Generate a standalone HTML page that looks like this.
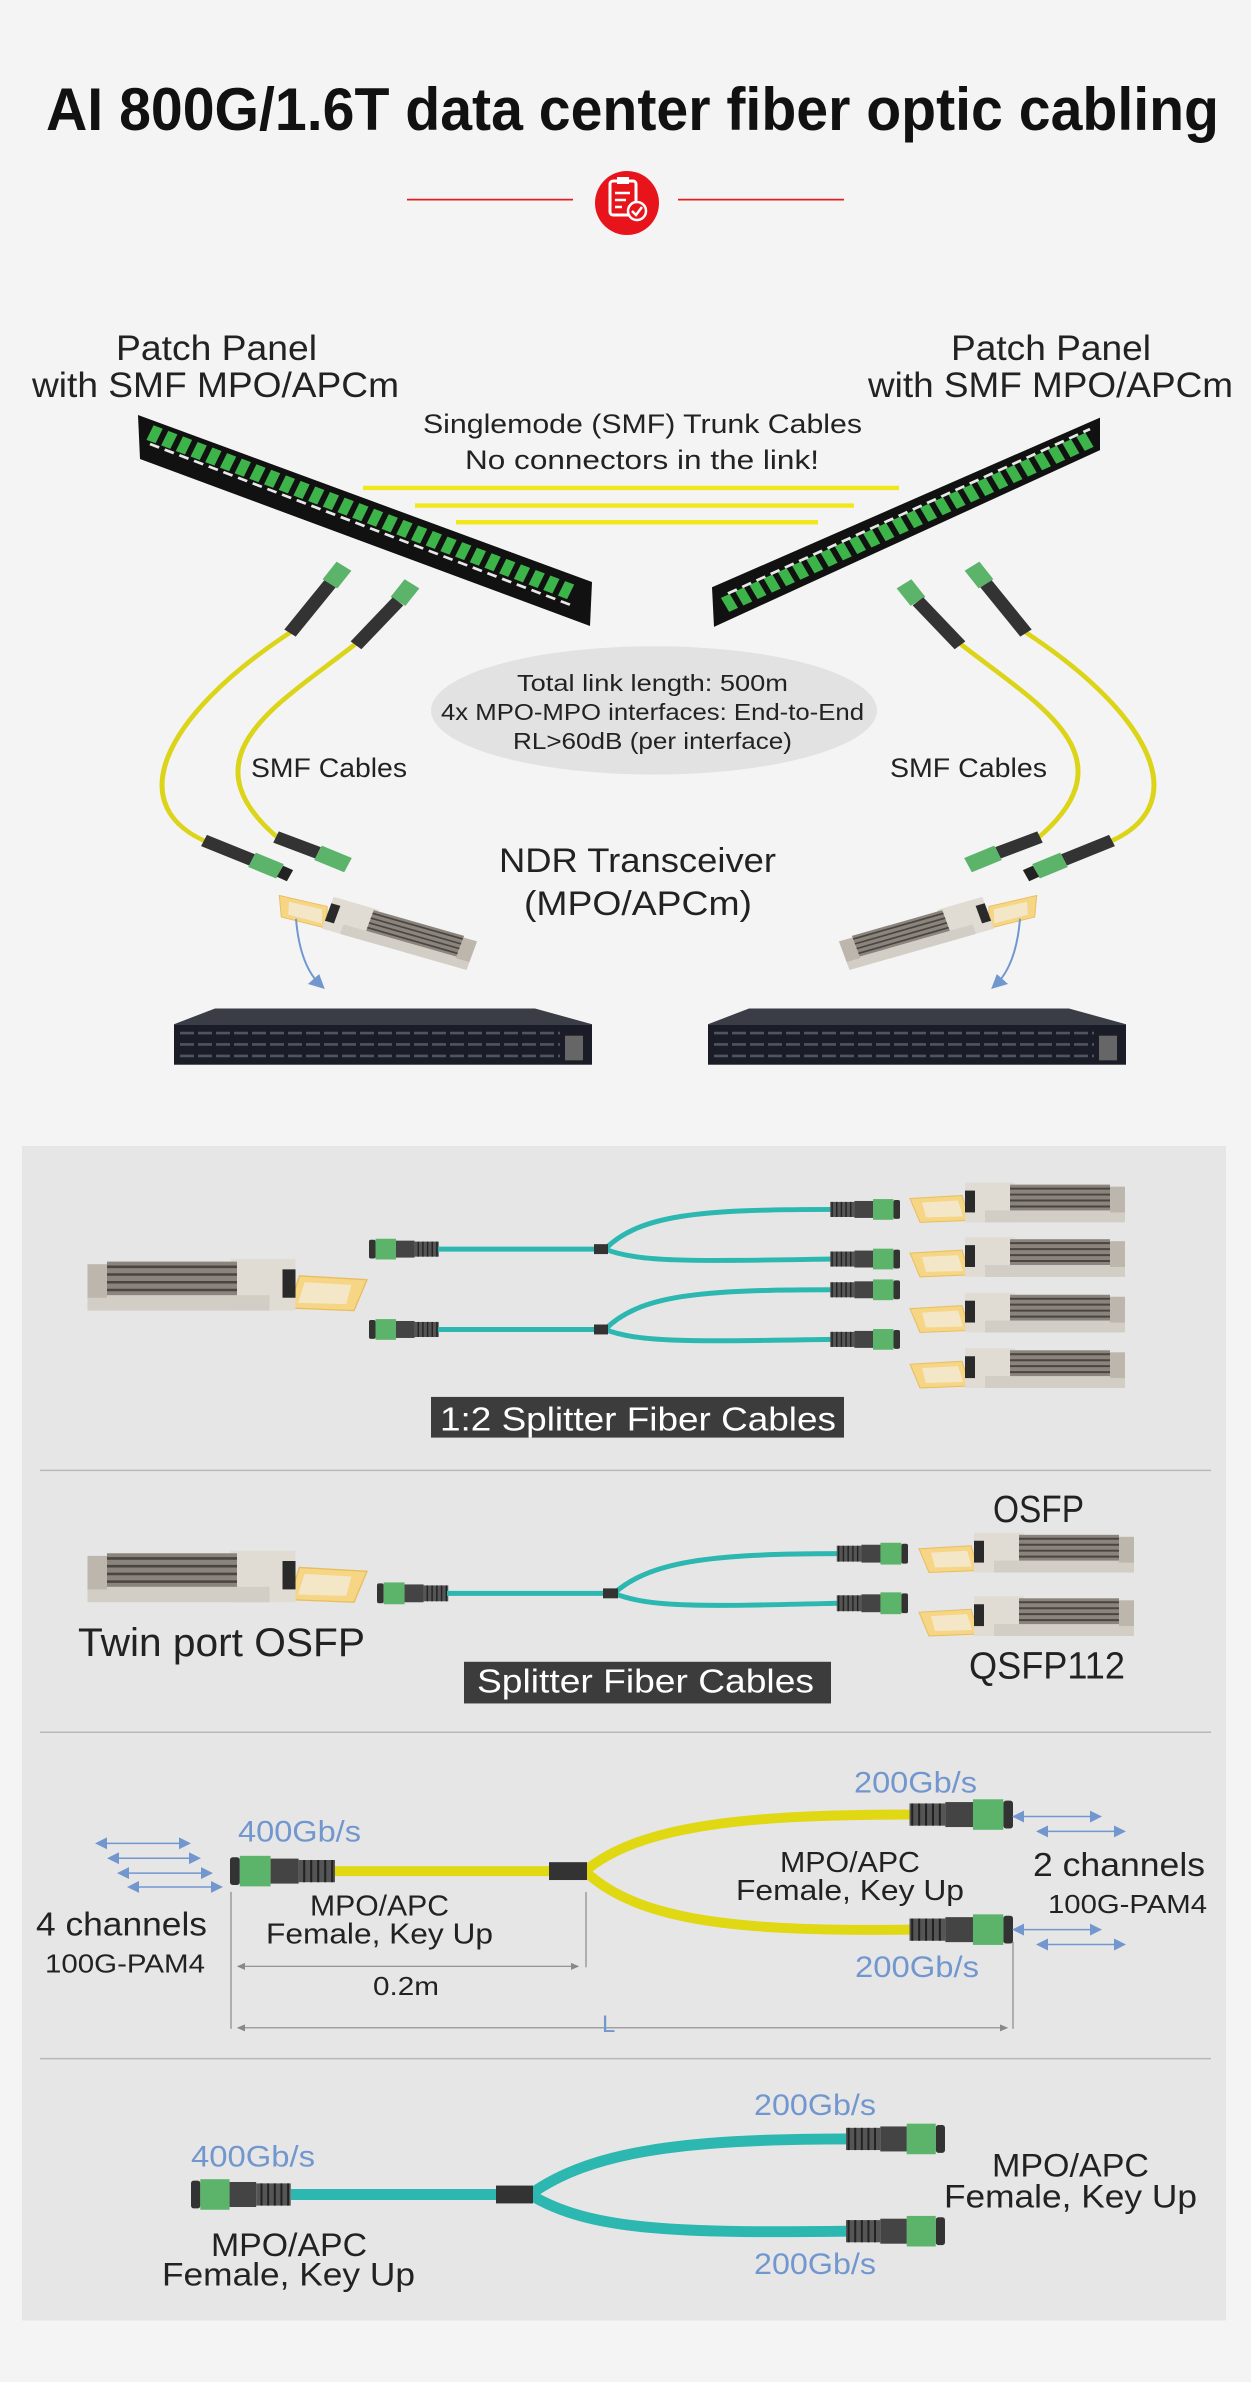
<!DOCTYPE html>
<html><head><meta charset="utf-8">
<style>
html,body{margin:0;padding:0;background:#f4f4f4;}
svg{display:block;}
text{font-family:"Liberation Sans",sans-serif;fill:#222;}
.b{fill:#7297cf;}
</style></head><body>
<svg width="1251" height="2382" viewBox="0 0 1251 2382" xmlns="http://www.w3.org/2000/svg">
<defs>
 <g id="xcvr">
  <path d="M0 16 L52 13 L60 38 L10 40 Z" fill="#f6d584" stroke="#e8bd5e" stroke-width="1"/>
  <path d="M12 20 L48 18 L53 34 L16 35 Z" fill="#f4f4f4" opacity="0.6"/>
  <rect x="55" y="0" width="50" height="40" fill="#e0dcd4"/>
  <rect x="55" y="8" width="10" height="22" fill="#2a2a2a"/>
  <rect x="100" y="2" width="100" height="28" fill="#8a847c"/>
  <g stroke="#4a4540" stroke-width="2"><line x1="100" y1="6" x2="200" y2="6"/><line x1="100" y1="12" x2="200" y2="12"/><line x1="100" y1="18" x2="200" y2="18"/><line x1="100" y1="24" x2="200" y2="24"/></g>
  <rect x="75" y="28" width="140" height="12" fill="#d2cdc5"/>
  <rect x="200" y="4" width="15" height="26" fill="#bcb6ad"/>
 </g>
 <g id="con">
  <rect x="0" y="-10" width="7" height="20" rx="2" fill="#333"/>
  <rect x="7" y="-11" width="22" height="22" fill="#5cb46a"/>
  <rect x="29" y="-9" width="20" height="18" fill="#444"/>
  <rect x="49" y="-8" width="26" height="16" fill="#555"/>
  <g stroke="#222" stroke-width="1.5"><line x1="53" y1="-8" x2="53" y2="8"/><line x1="58" y1="-8" x2="58" y2="8"/><line x1="63" y1="-8" x2="63" y2="8"/><line x1="68" y1="-8" x2="68" y2="8"/><line x1="73" y1="-8" x2="73" y2="8"/></g>
 </g>
 <marker id="ah" markerWidth="8" markerHeight="8" refX="6" refY="4" orient="auto"><path d="M0 0 L8 4 L0 8 Z" fill="#7297cf"/></marker>
 <marker id="ah2" markerWidth="8" markerHeight="8" refX="2" refY="4" orient="auto-start-reverse"><path d="M0 0 L8 4 L0 8 Z" fill="#7297cf"/></marker>
 <marker id="gk" markerWidth="8" markerHeight="8" refX="6" refY="4" orient="auto-start-reverse"><path d="M0 1 L7 4 L0 7 Z" fill="#888"/></marker>
</defs>

<!-- title -->
<text x="46" y="130" font-size="60" font-weight="bold" textLength="1173" lengthAdjust="spacingAndGlyphs" style="fill:#111">AI 800G/1.6T data center fiber optic cabling</text>

<!-- top shapes (vertically scaled) -->
<g transform="scale(1,0.8792)">
<line x1="407" y1="227" x2="573" y2="227" stroke="#e41e1e" stroke-width="2"/>
<line x1="678" y1="227" x2="844" y2="227" stroke="#e41e1e" stroke-width="2"/>
<!-- panels -->
<polygon points="138,472 592,662 590,712 140,522" fill="#111"/>
<line x1="150" y1="492" x2="575" y2="675" stroke="#3cb44a" stroke-width="18" stroke-dasharray="10 6"/>
<line x1="150" y1="505" x2="575" y2="690" stroke="#e8e8e8" stroke-width="3" stroke-dasharray="10 6"/>
<polygon points="712,668 1100,475 1100,512 714,713" fill="#111"/>
<line x1="725" y1="688" x2="1090" y2="500" stroke="#3cb44a" stroke-width="18" stroke-dasharray="10 6"/>
<line x1="728" y1="675" x2="1090" y2="488" stroke="#e8e8e8" stroke-width="3" stroke-dasharray="10 6"/>
<line x1="363" y1="555" x2="899" y2="555" stroke="#f0e81a" stroke-width="5"/>
<line x1="415" y1="575" x2="854" y2="575" stroke="#f0e81a" stroke-width="5"/>
<line x1="456" y1="594" x2="818" y2="594" stroke="#f0e81a" stroke-width="5"/>
<ellipse cx="654" cy="808" rx="223" ry="73" fill="#e2e2e2"/>
<g id="topcab">
 <path d="M292 718 C160 816,120 920,212 960" fill="none" stroke="#dcd418" stroke-width="5"/>
 <path d="M356 732 C280 800,180 860,280 955" fill="none" stroke="#dcd418" stroke-width="5"/>
 <line x1="344" y1="644" x2="330" y2="664" stroke="#5cb46a" stroke-width="18"/>
 <line x1="330" y1="664" x2="290" y2="720" stroke="#333" stroke-width="14"/>
 <line x1="412" y1="664" x2="398" y2="684" stroke="#5cb46a" stroke-width="18"/>
 <line x1="398" y1="684" x2="356" y2="734" stroke="#333" stroke-width="14"/>
 <line x1="204" y1="956" x2="252" y2="978" stroke="#333" stroke-width="14"/>
 <line x1="252" y1="978" x2="280" y2="991" stroke="#5cb46a" stroke-width="18"/>
 <line x1="280" y1="991" x2="290" y2="996" stroke="#222" stroke-width="14"/>
 <line x1="276" y1="952" x2="318" y2="970" stroke="#333" stroke-width="14"/>
 <line x1="318" y1="970" x2="348" y2="984" stroke="#5cb46a" stroke-width="18"/>
 <use href="#xcvr" transform="translate(284,1004) rotate(18) scale(0.95)"/>
 <path d="M296 1045 Q300 1100 322 1122" fill="none" stroke="#7297cf" stroke-width="2" marker-end="url(#ah)"/>
</g>
<use href="#topcab" transform="translate(1316,0) scale(-1,1)"/>
<g id="sw">
 <polygon points="215,1147 535,1147 592,1165 174,1165" fill="#3a3d45"/>
 <rect x="174" y="1165" width="418" height="46" fill="#1a1d28"/>
 <g stroke="#50545e" stroke-width="3" stroke-dasharray="14 4"><line x1="180" y1="1175" x2="560" y2="1175"/><line x1="180" y1="1188" x2="560" y2="1188"/><line x1="180" y1="1201" x2="560" y2="1201"/></g>
 <rect x="565" y="1178" width="18" height="28" fill="#666"/>
</g>
<use href="#sw" transform="translate(534,0)"/>
</g>

<!-- icon -->
<circle cx="627" cy="203" r="32" fill="#e8141c"/>
<rect x="610" y="181" width="26" height="34" rx="3" fill="none" stroke="#fff" stroke-width="3"/>
<rect x="617" y="177" width="12" height="7" fill="#fff"/>
<g stroke="#fff" stroke-width="2.5"><line x1="615" y1="193" x2="630" y2="193"/><line x1="615" y1="200" x2="626" y2="200"/><line x1="615" y1="207" x2="622" y2="207"/></g>
<circle cx="637" cy="211" r="9" fill="#e8141c" stroke="#fff" stroke-width="2.5"/>
<path d="M632 211 L636 215 L642 207" fill="none" stroke="#fff" stroke-width="2.5"/>

<!-- top labels -->
<text x="116" y="360" font-size="35" textLength="201" lengthAdjust="spacingAndGlyphs">Patch Panel</text>
<text x="32" y="397" font-size="35" textLength="367" lengthAdjust="spacingAndGlyphs">with SMF MPO/APCm</text>
<text x="951" y="360" font-size="35" textLength="200" lengthAdjust="spacingAndGlyphs">Patch Panel</text>
<text x="868" y="397" font-size="35" textLength="365" lengthAdjust="spacingAndGlyphs">with SMF MPO/APCm</text>
<text x="423" y="433" font-size="27" textLength="439" lengthAdjust="spacingAndGlyphs">Singlemode (SMF) Trunk Cables</text>
<text x="465" y="469" font-size="27" textLength="354" lengthAdjust="spacingAndGlyphs">No connectors in the link!</text>
<text x="517" y="691" font-size="23" textLength="271" lengthAdjust="spacingAndGlyphs">Total link length: 500m</text>
<text x="441" y="720" font-size="23" textLength="423" lengthAdjust="spacingAndGlyphs">4x MPO-MPO interfaces: End-to-End</text>
<text x="513" y="749" font-size="23" textLength="279" lengthAdjust="spacingAndGlyphs">RL&gt;60dB (per interface)</text>
<text x="251" y="777" font-size="27" textLength="156" lengthAdjust="spacingAndGlyphs">SMF Cables</text>
<text x="890" y="777" font-size="27" textLength="157" lengthAdjust="spacingAndGlyphs">SMF Cables</text>
<text x="499" y="872" font-size="34" textLength="277" lengthAdjust="spacingAndGlyphs">NDR Transceiver</text>
<text x="524" y="915" font-size="34" textLength="228" lengthAdjust="spacingAndGlyphs">(MPO/APCm)</text>

<g transform="translate(0,1140) scale(1,0.992) translate(0,-1140)">
<rect x="22" y="1146" width="1204" height="1184" fill="#e6e6e6"/>
<line x1="40" y1="1473" x2="1211" y2="1473" stroke="#b8b8b8" stroke-width="1.5"/>
<line x1="40" y1="1737" x2="1211" y2="1737" stroke="#b8b8b8" stroke-width="1.5"/>
<line x1="40" y1="2066" x2="1211" y2="2066" stroke="#b8b8b8" stroke-width="1.5"/>

<!-- section 1 -->
<use href="#xcvr" transform="translate(367,1260) scale(-1.3,1.3)"/>
<g id="s1g">
 <use href="#con" transform="translate(369,1250) scale(0.93,0.95)"/>
 <line x1="438" y1="1250" x2="596" y2="1250" stroke="#2cb7b0" stroke-width="5"/>
 <path d="M605 1250 C640 1215,700 1210,832 1210" fill="none" stroke="#2cb7b0" stroke-width="5"/>
 <path d="M605 1250 C640 1264,700 1262,832 1260" fill="none" stroke="#2cb7b0" stroke-width="5"/>
 <rect x="594" y="1245" width="14" height="10" fill="#333"/>
 <use href="#con" transform="translate(900,1210) scale(-0.93,0.95)"/>
 <use href="#con" transform="translate(900,1260) scale(-0.93,0.95)"/>
</g>
<use href="#s1g" transform="translate(0,81)"/>
<use href="#xcvr" transform="translate(910,1183)"/>
<use href="#xcvr" transform="translate(910,1238)"/>
<use href="#xcvr" transform="translate(910,1294)"/>
<use href="#xcvr" transform="translate(910,1350)"/>
<rect x="431" y="1399" width="413" height="41" fill="#3c3c3c"/>
<text x="440" y="1433" font-size="34" textLength="396" lengthAdjust="spacingAndGlyphs" style="fill:#fff">1:2 Splitter Fiber Cables</text>

<!-- section 2 -->
<use href="#xcvr" transform="translate(367,1554) scale(-1.3,1.3)"/>
<use href="#con" transform="translate(377,1597) scale(0.95,1)"/>
<line x1="447" y1="1597" x2="606" y2="1597" stroke="#2cb7b0" stroke-width="5"/>
<path d="M614 1597 C650 1565,710 1557,838 1557" fill="none" stroke="#2cb7b0" stroke-width="5"/>
<path d="M614 1597 C650 1612,710 1610,838 1607" fill="none" stroke="#2cb7b0" stroke-width="5"/>
<rect x="603" y="1592" width="15" height="10" fill="#333"/>
<use href="#con" transform="translate(908,1557) scale(-0.95,1)"/>
<use href="#con" transform="translate(908,1607) scale(-0.95,1)"/>
<use href="#xcvr" transform="translate(919,1536)"/>
<use href="#xcvr" transform="translate(919,1600)"/>
<text x="993" y="1525" font-size="38" textLength="91" lengthAdjust="spacingAndGlyphs">OSFP</text>
<text x="969" y="1683" font-size="38" textLength="156" lengthAdjust="spacingAndGlyphs">QSFP112</text>
<text x="78" y="1660" font-size="40" textLength="287" lengthAdjust="spacingAndGlyphs">Twin port OSFP</text>
<rect x="464" y="1666" width="367" height="42" fill="#3c3c3c"/>
<text x="477" y="1697" font-size="34" textLength="337" lengthAdjust="spacingAndGlyphs" style="fill:#fff">Splitter Fiber Cables</text>

<!-- section 3 -->
<line x1="335" y1="1877" x2="551" y2="1877" stroke="#dfd812" stroke-width="10"/>
<path d="M585 1877 C640 1830,750 1820,912 1820" fill="none" stroke="#dfd812" stroke-width="10"/>
<path d="M585 1877 C640 1930,750 1938,912 1936" fill="none" stroke="#dfd812" stroke-width="10"/>
<rect x="549" y="1868" width="38" height="18" fill="#333"/>
<use href="#con" transform="translate(230,1877) scale(1.4,1.4)"/>
<use href="#con" transform="translate(1013,1820) scale(-1.38,1.4)"/>
<use href="#con" transform="translate(1013,1936) scale(-1.38,1.4)"/>
<g stroke="#7297cf" stroke-width="1.5" marker-start="url(#ah2)" marker-end="url(#ah)">
 <line x1="104" y1="1849" x2="188" y2="1849"/><line x1="116" y1="1864" x2="198" y2="1864"/><line x1="126" y1="1879" x2="210" y2="1879"/><line x1="136" y1="1893" x2="220" y2="1893"/>
 <line x1="1021" y1="1822" x2="1099" y2="1822"/><line x1="1045" y1="1837" x2="1123" y2="1837"/><line x1="1021" y1="1936" x2="1099" y2="1936"/><line x1="1045" y1="1951" x2="1123" y2="1951"/>
</g>
<g stroke="#888" stroke-width="1.2">
 <line x1="231" y1="1898" x2="231" y2="2036"/><line x1="586" y1="1898" x2="586" y2="1974"/><line x1="1013" y1="1948" x2="1013" y2="2036"/>
 <line x1="238" y1="1973" x2="578" y2="1973" marker-start="url(#gk)" marker-end="url(#gk)"/>
 <line x1="238" y1="2035" x2="1007" y2="2035" marker-start="url(#gk)" marker-end="url(#gk)"/>
</g>
<text x="238" y="1847" font-size="30" class="b" textLength="123" lengthAdjust="spacingAndGlyphs">400Gb/s</text>
<text x="854" y="1798" font-size="30" class="b" textLength="123" lengthAdjust="spacingAndGlyphs">200Gb/s</text>
<text x="855" y="1984" font-size="30" class="b" textLength="124" lengthAdjust="spacingAndGlyphs">200Gb/s</text>
<text x="310" y="1922" font-size="29" textLength="139" lengthAdjust="spacingAndGlyphs">MPO/APC</text>
<text x="266" y="1950" font-size="29" textLength="227" lengthAdjust="spacingAndGlyphs">Female, Key Up</text>
<text x="780" y="1878" font-size="29" textLength="140" lengthAdjust="spacingAndGlyphs">MPO/APC</text>
<text x="736" y="1906" font-size="29" textLength="228" lengthAdjust="spacingAndGlyphs">Female, Key Up</text>
<text x="36" y="1942" font-size="34" textLength="171" lengthAdjust="spacingAndGlyphs">4 channels</text>
<text x="45" y="1979" font-size="26" textLength="160" lengthAdjust="spacingAndGlyphs">100G-PAM4</text>
<text x="1033" y="1882" font-size="34" textLength="172" lengthAdjust="spacingAndGlyphs">2 channels</text>
<text x="1048" y="1919" font-size="26" textLength="159" lengthAdjust="spacingAndGlyphs">100G-PAM4</text>
<text x="373" y="2002" font-size="26" textLength="66" lengthAdjust="spacingAndGlyphs">0.2m</text>
<text x="602" y="2039" font-size="24" class="b">L</text>

<!-- section 4 -->
<line x1="291" y1="2203" x2="498" y2="2203" stroke="#2cb7b0" stroke-width="11"/>
<path d="M530 2203 C590 2160,680 2147,848 2147" fill="none" stroke="#2cb7b0" stroke-width="11"/>
<path d="M530 2203 C590 2240,680 2242,848 2240" fill="none" stroke="#2cb7b0" stroke-width="11"/>
<rect x="496" y="2194" width="37" height="18" fill="#333"/>
<use href="#con" transform="translate(191,2203) scale(1.33,1.4)"/>
<use href="#con" transform="translate(945,2147) scale(-1.32,1.4)"/>
<use href="#con" transform="translate(945,2240) scale(-1.32,1.4)"/>
<text x="191" y="2175" font-size="30" class="b" textLength="124" lengthAdjust="spacingAndGlyphs">400Gb/s</text>
<text x="754" y="2123" font-size="30" class="b" textLength="122" lengthAdjust="spacingAndGlyphs">200Gb/s</text>
<text x="754" y="2283" font-size="30" class="b" textLength="122" lengthAdjust="spacingAndGlyphs">200Gb/s</text>
<text x="211" y="2265" font-size="33" textLength="156" lengthAdjust="spacingAndGlyphs">MPO/APC</text>
<text x="162" y="2295" font-size="33" textLength="253" lengthAdjust="spacingAndGlyphs">Female, Key Up</text>
<text x="992" y="2185" font-size="33" textLength="157" lengthAdjust="spacingAndGlyphs">MPO/APC</text>
<text x="944" y="2216" font-size="33" textLength="253" lengthAdjust="spacingAndGlyphs">Female, Key Up</text>
</g>
</svg>
</body></html>
